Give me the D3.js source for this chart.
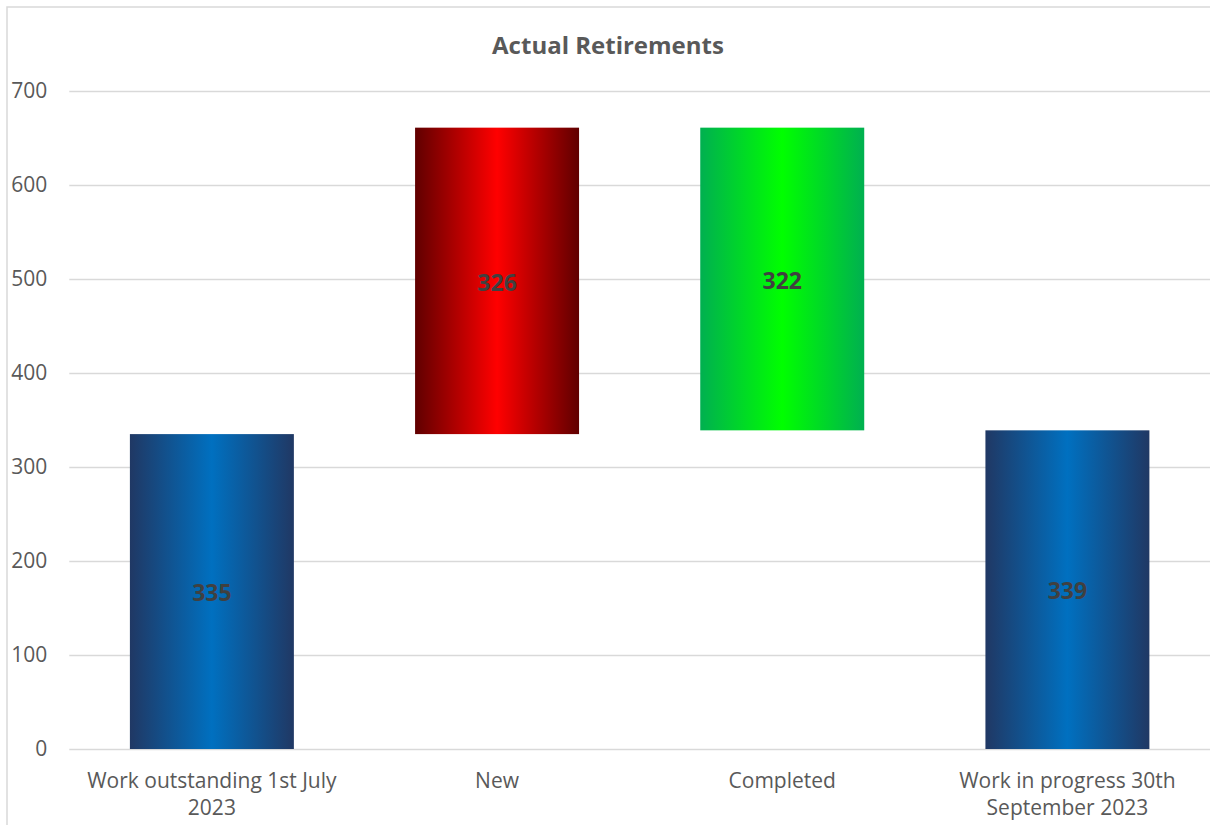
<!DOCTYPE html>
<html><head><meta charset="utf-8">
<script src="https://cdn.jsdelivr.net/npm/d3@7"></script>
<style>
html,body{margin:0;padding:0;background:#fff;}
svg{display:block;}
text{font-family:"Open Sans",sans-serif;}
</style></head>
<body>
<svg id="chart" width="1210" height="825"></svg>
<script>
const categories = ["Work outstanding 1st July 2023", "New", "Completed", "Work in progress 30th September 2023"];
const categoryLines = [["Work outstanding 1st July", "2023"], ["New"], ["Completed"], ["Work in progress 30th", "September 2023"]];
const values = [335, 326, 322, 339];
const barTypes = ["total", "increase", "decrease", "total"];
const yTicks = [0, 100, 200, 300, 400, 500, 600, 700];
const title = "Actual Retirements";

// build waterfall segments
let running = 0;
const segs = values.map((v, i) => {
  let lo, hi;
  if (barTypes[i] === "total") { lo = 0; hi = v; running = v; }
  else if (barTypes[i] === "increase") { lo = running; hi = running + v; running = hi; }
  else { hi = running; lo = running - v; running = lo; }
  return {cat: categories[i], lo, hi, v, type: barTypes[i], lines: categoryLines[i]};
});

const svg = d3.select("#chart");
const W = 1210, H = 825;
const m = {left: 69.3, right: 0, top: 91, bottom: 76};

svg.append("rect").attr("x", 7).attr("y", 7).attr("width", W).attr("height", H)
  .attr("fill", "#fff").attr("stroke", "#d9d9d9").attr("stroke-width", 1.5);

const x = d3.scaleBand().domain(categories).range([m.left, W - m.right]).paddingInner(0.425).paddingOuter(0.2125);
const y = d3.scaleLinear().domain([0, 700]).range([H - m.bottom, m.top]);

const defs = svg.append("defs");
const grads = {
  total: ["#203864", "#0070c0"],
  increase: ["#600000", "#ff0000"],
  decrease: ["#00b050", "#00ff00"]
};
Object.entries(grads).forEach(([k, [edge, mid]]) => {
  const g = defs.append("linearGradient").attr("id", "g-" + k).attr("x1", "0").attr("x2", "1").attr("y1", "0").attr("y2", "0");
  g.append("stop").attr("offset", "0%").attr("stop-color", edge);
  g.append("stop").attr("offset", "50%").attr("stop-color", mid);
  g.append("stop").attr("offset", "100%").attr("stop-color", edge);
});

// gridlines
const yAxis = d3.axisLeft(y).tickValues(yTicks).tickSize(-(W - m.left - m.right)).tickPadding(22);
const ga = svg.append("g").attr("transform", `translate(${m.left},0)`).call(yAxis);
ga.select(".domain").remove();
ga.selectAll(".tick line").attr("stroke", "#d9d9d9").attr("stroke-width", 1.5);
ga.selectAll(".tick text").attr("fill", "#595959").style("font-size", "21px").attr("font-family", "Open Sans");

// bars
svg.append("g").selectAll("rect").data(segs).join("rect")
  .attr("x", d => x(d.cat))
  .attr("width", x.bandwidth())
  .attr("y", d => y(d.hi))
  .attr("height", d => y(d.lo) - y(d.hi))
  .attr("fill", d => `url(#g-${d.type})`);

// labels
svg.append("g").selectAll("text").data(segs).join("text")
  .attr("x", d => x(d.cat) + x.bandwidth() / 2)
  .attr("y", d => y((d.lo + d.hi) / 2))
  .attr("dy", "0.42em")
  .attr("text-anchor", "middle")
  .attr("fill", "#404040")
  .style("font-size", "23px")
  .style("font-weight", "bold")
  .text(d => d.v);

// x axis labels
const xl = svg.append("g").selectAll("text").data(segs).join("text")
  .attr("x", d => x(d.cat) + x.bandwidth() / 2)
  .attr("y", 788)
  .attr("text-anchor", "middle")
  .attr("fill", "#595959")
  .style("font-size", "21px");
xl.each(function(d) {
  const t = d3.select(this);
  d.lines.forEach((ln, i) => {
    t.append("tspan").attr("x", x(d.cat) + x.bandwidth() / 2).attr("dy", i === 0 ? 0 : 27).text(ln);
  });
});

svg.append("text").attr("x", 608).attr("y", 54).attr("text-anchor", "middle")
  .attr("fill", "#595959").style("font-size", "24px").style("font-weight", "bold").text(title);
</script>
</body></html>
